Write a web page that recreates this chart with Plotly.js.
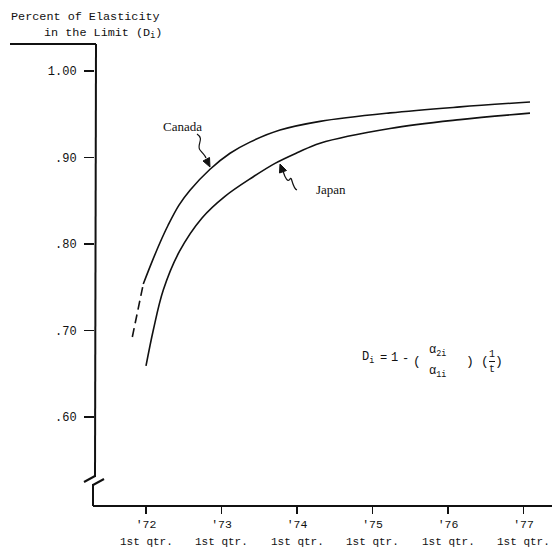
<!DOCTYPE html>
<html><head><meta charset="utf-8">
<script src="https://cdn.plot.ly/plotly-3.0.1.min.js"></script>
<style>html,body{margin:0;padding:0;background:#fff}#chart{width:552px;height:550px}</style>
</head><body><div id="chart"></div>
<script>
// ---- data ----
const yearTicks = [1972, 1973, 1974, 1975, 1976, 1977];
const yearLabels = ["'72", "'73", "'74", "'75", "'76", "'77"];
const qtrLabel = "1st qtr.";
const yTickVals = [0.6, 0.7, 0.8, 0.9, 1.0];
const yTickText = ['.60', '.70', '.80', '.90', '1.00'];
const canadaX = [1971.964, 1972.075, 1972.185, 1972.291, 1972.437, 1972.583, 1972.848, 1973.113, 1973.377, 1973.775, 1974.305, 1975.232, 1976.159, 1977.086];
const canadaY = [0.7538, 0.7785, 0.8015, 0.8214, 0.8449, 0.8621, 0.8864, 0.9049, 0.9178, 0.9317, 0.9418, 0.9516, 0.9585, 0.9642];
const canadaDashX = [1971.819, 1971.892, 1971.964];
const canadaDashY = [0.6925, 0.724, 0.7538];
const japanX = [1972.000, 1972.097, 1972.229, 1972.441, 1972.742, 1973.046, 1973.417, 1973.709, 1974.000, 1974.305, 1975.232, 1976.159, 1977.086];
const japanY = [0.6590, 0.7006, 0.7468, 0.7911, 0.8301, 0.8551, 0.8775, 0.8932, 0.9054, 0.9166, 0.9336, 0.9438, 0.9513];

// ---- layout helpers ----
const ML = 95, MT = 44, PW = 457, PH = 462;
const px = x => (x - ML) / PW;
const py = y => (MT + PH - y) / PH;
const MONO = 'Liberation Mono, DejaVu Sans Mono, monospace';
const SERIF = 'Liberation Serif, DejaVu Serif, serif';
const INK = '#111';

function line(x0, y0, x1, y1, w) {
  return {type: 'line', xref: 'paper', yref: 'paper', x0: px(x0), y0: py(y0), x1: px(x1), y1: py(y1),
          line: {color: INK, width: w || 2}};
}
function txt(text, x, y, size, opts) {
  return Object.assign({text: text, xref: 'paper', yref: 'paper', x: px(x), y: py(y), showarrow: false,
    xanchor: 'center', yanchor: 'middle', borderpad: 0, font: {family: MONO, size: size || 11, color: INK}}, opts || {});
}
function pathPx(cmds) {
  return cmds.map(c => c[0] + (c.length > 1 ? ' ' + c.slice(1).map((v, i) => i % 2 === 0 ? px(v) : py(v)).join(' ') : '')).join(' ');
}

const traces = [
  {x: canadaX, y: canadaY, mode: 'lines', line: {color: INK, width: 1.6, shape: 'spline', smoothing: 1}, hoverinfo: 'skip'},
  {x: canadaDashX, y: canadaDashY, mode: 'lines', line: {color: INK, width: 1.6, dash: '9px,5px'}, hoverinfo: 'skip'},
  {x: japanX, y: japanY, mode: 'lines', line: {color: INK, width: 1.6, shape: 'spline', smoothing: 1}, hoverinfo: 'skip'}
];

const annotations = [
  txt('Percent of Elasticity', 10, 17, 11.8, {xanchor: 'left'}),
  txt('in the Limit (D<sub>i</sub>)', 43, 33, 11.8, {xanchor: 'left'}),
  txt('Canada', 182, 127, 13, {font: {family: SERIF, size: 13, color: INK}}),
  txt('Japan', 331, 190, 13, {font: {family: SERIF, size: 13, color: INK}}),
  // formula
  txt('D<sub>i</sub>', 368, 358, 12),
  txt('=', 383, 358, 12),
  txt('1', 394, 358, 12),
  txt('-', 405, 359, 12),
  txt('(', 417, 361, 13),
  txt('α<sub>2i</sub>', 437, 351, 12),
  txt('α<sub>1i</sub>', 437, 372, 12),
  txt(')', 470, 361, 13),
  txt('(', 485, 361, 13),
  txt('1', 492, 354, 10),
  txt('t', 492, 369, 10),
  txt(')', 499, 361, 13)
];
yearTicks.forEach(t => annotations.push({text: qtrLabel, xref: 'x', yref: 'paper', x: t, y: py(542), showarrow: false,
  xanchor: 'center', yanchor: 'middle', font: {family: MONO, size: 11, color: INK}}));

const shapes = [
  line(10, 44, 96, 44, 2.2),
  line(96, 44, 95, 477, 2),
  line(84, 482, 95, 476, 2),
  line(93, 485, 104, 479, 2),
  line(93, 484, 93, 506, 2),
  line(93, 506, 552, 506, 2),
  line(489, 361.5, 495, 361.5, 1),
  // squiggles
  {type: 'path', xref: 'paper', yref: 'paper', line: {color: INK, width: 1.2},
   path: pathPx([['M', 197, 134], ['C', 205, 139, 196, 145, 200, 150], ['S', 205, 155, 206, 158]])},
  {type: 'path', xref: 'paper', yref: 'paper', line: {color: INK, width: 1.2},
   path: pathPx([['M', 283, 171], ['C', 285, 178, 288, 183, 290, 179], ['S', 292, 188, 297, 190]])},
  // arrow heads
  {type: 'path', xref: 'paper', yref: 'paper', line: {color: INK, width: 1}, fillcolor: INK,
   path: pathPx([['M', 210, 167], ['L', 203, 161], ['L', 209.5, 157.5], ['Z']])},
  {type: 'path', xref: 'paper', yref: 'paper', line: {color: INK, width: 1}, fillcolor: INK,
   path: pathPx([['M', 280, 164], ['L', 286.5, 170.5], ['L', 279.5, 173], ['Z']])}
];

const layout = {
  width: 552, height: 550,
  margin: {l: ML, r: 552 - ML - PW, t: MT, b: 550 - MT - PH, pad: 0},
  paper_bgcolor: '#fff', plot_bgcolor: '#fff',
  showlegend: false,
  font: {family: MONO, size: 11, color: INK},
  xaxis: {range: [1971.3245, 1977.3775], showgrid: false, zeroline: false, showline: false,
    tickmode: 'array', tickvals: yearTicks, ticktext: yearLabels, ticks: 'outside', ticklen: 7, tickwidth: 1.6,
    tickcolor: INK, tickfont: {family: MONO, size: 11.5, color: INK}, fixedrange: true},
  yaxis: {range: [1 - (506 - 71) / 865, 1 + (71 - 44) / 865], showgrid: false, zeroline: false, showline: false,
    tickmode: 'array', tickvals: yTickVals, ticktext: yTickText, ticks: 'outside', ticklen: 10, tickwidth: 1.6,
    tickcolor: INK, tickfont: {family: MONO, size: 12, color: INK}, ticklabelstandoff: 5, fixedrange: true},
  annotations: annotations,
  shapes: shapes
};
Plotly.newPlot('chart', traces, layout, {displayModeBar: false, staticPlot: true});
</script></body></html>
